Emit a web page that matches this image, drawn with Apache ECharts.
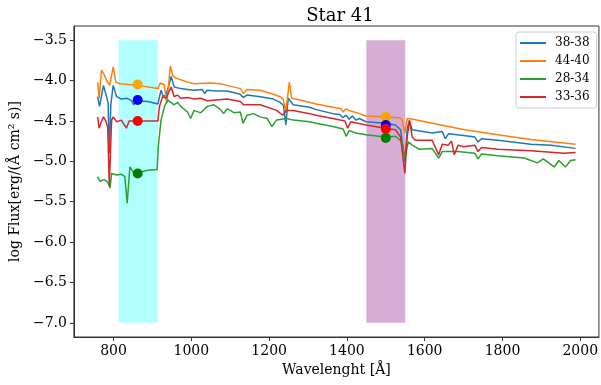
<!DOCTYPE html>
<html>
<head>
<meta charset="utf-8">
<script src="https://cdn.jsdelivr.net/npm/echarts@6/dist/echarts.min.js"></script>
<style>
  html, body { margin: 0; padding: 0; background: #fff; }
  #chart { width: 601px; height: 385px; }
</style>
</head>
<body>
<div id="chart"></div>
<script>
// spectra, [wavelength (Å), log flux]
const s3838 = [
  [759,-4.20],[764,-4.32],[774,-4.06],[782,-4.20],[786,-4.28],[789,-4.90],[793,-4.30],[799,-4.06],
  [808,-4.20],[820,-4.23],[835,-4.22],[846,-4.25],[852,-4.30],[858,-4.25],[888,-4.26],[914,-4.29],
  [922,-4.12],[928,-4.20],[934,-4.18],[940,-4.10],[948,-3.95],[956,-4.08],[973,-4.10],[990,-4.11],
  [1007,-4.12],[1028,-4.11],[1034,-4.16],[1041,-4.12],[1065,-4.13],[1092,-4.13],[1126,-4.17],[1133,-4.21],
  [1143,-4.18],[1177,-4.20],[1211,-4.23],[1228,-4.27],[1237,-4.31],[1243,-4.55],[1249,-4.22],[1262,-4.30],
  [1304,-4.33],[1321,-4.36],[1364,-4.41],[1382,-4.42],[1390,-4.46],[1398,-4.43],[1406,-4.48],[1414,-4.44],
  [1423,-4.49],[1432,-4.47],[1449,-4.51],[1498,-4.53],[1525,-4.55],[1538,-4.61],[1549,-5.00],[1555,-4.60],
  [1560,-4.50],[1568,-4.61],[1619,-4.65],[1645,-4.63],[1653,-4.72],[1661,-4.66],[1700,-4.68],[1729,-4.70],
  [1737,-4.76],[1746,-4.72],[1788,-4.74],[1873,-4.79],[1925,-4.80],[1988,-4.84]
];
const s4440 = [
  [759,-4.02],[763,-4.22],[769,-3.87],[776,-3.93],[782,-4.00],[790,-4.06],[799,-3.83],[806,-4.02],
  [816,-4.04],[863,-4.06],[914,-4.10],[920,-4.03],[930,-4.05],[937,-4.28],[946,-3.82],[952,-3.94],
  [960,-3.97],[973,-3.99],[990,-4.02],[1007,-4.04],[1049,-4.03],[1075,-4.04],[1092,-4.06],[1126,-4.10],
  [1134,-4.16],[1143,-4.11],[1177,-4.12],[1211,-4.17],[1228,-4.20],[1236,-4.23],[1243,-4.38],[1252,-4.02],
  [1258,-4.22],[1279,-4.24],[1321,-4.29],[1364,-4.33],[1385,-4.35],[1390,-4.39],[1398,-4.35],[1406,-4.37],
  [1432,-4.41],[1449,-4.44],[1498,-4.45],[1534,-4.46],[1542,-4.48],[1549,-4.65],[1555,-4.47],[1570,-4.48],
  [1619,-4.53],[1703,-4.61],[1788,-4.67],[1873,-4.73],[1988,-4.79]
];
const s2834 = [
  [759,-5.19],[765,-5.25],[772,-5.23],[778,-5.23],[785,-5.26],[791,-5.33],[795,-5.15],[808,-5.17],
  [820,-5.16],[829,-5.19],[835,-5.52],[842,-5.07],[850,-5.13],[863,-5.14],[888,-5.11],[912,-5.10],
  [915,-4.82],[922,-4.49],[931,-4.32],[939,-4.24],[947,-4.27],[956,-4.30],[964,-4.27],[973,-4.32],
  [990,-4.39],[998,-4.47],[1007,-4.37],[1024,-4.40],[1041,-4.32],[1058,-4.30],[1075,-4.36],[1083,-4.41],
  [1092,-4.35],[1100,-4.37],[1110,-4.40],[1126,-4.39],[1133,-4.53],[1143,-4.43],[1160,-4.41],[1177,-4.45],
  [1195,-4.47],[1207,-4.57],[1219,-4.49],[1245,-4.47],[1262,-4.49],[1304,-4.51],[1321,-4.53],[1364,-4.57],
  [1390,-4.60],[1398,-4.69],[1406,-4.62],[1423,-4.65],[1449,-4.67],[1498,-4.70],[1525,-4.69],[1542,-4.76],
  [1549,-4.95],[1558,-4.76],[1568,-4.80],[1585,-4.85],[1619,-4.84],[1636,-4.96],[1645,-4.88],[1686,-4.88],
  [1729,-4.90],[1737,-4.97],[1746,-4.91],[1788,-4.93],[1856,-4.96],[1890,-5.02],[1905,-4.97],[1933,-5.07],
  [1945,-4.99],[1962,-5.07],[1975,-4.99],[1988,-4.98]
];
const s3336 = [
  [759,-4.45],[763,-4.59],[768,-4.52],[774,-4.45],[780,-4.50],[785,-4.58],[789,-5.30],[795,-4.49],
  [799,-4.45],[808,-4.51],[820,-4.49],[833,-4.59],[840,-4.50],[863,-4.50],[914,-4.50],[918,-4.32],
  [926,-4.20],[935,-4.22],[948,-4.08],[956,-4.20],[964,-4.18],[973,-4.22],[990,-4.21],[1007,-4.23],
  [1024,-4.22],[1041,-4.25],[1092,-4.23],[1126,-4.26],[1134,-4.30],[1177,-4.30],[1219,-4.37],[1235,-4.43],
  [1245,-4.37],[1262,-4.37],[1304,-4.41],[1321,-4.43],[1364,-4.47],[1395,-4.50],[1402,-4.59],[1410,-4.51],
  [1449,-4.55],[1498,-4.59],[1525,-4.61],[1538,-4.70],[1549,-5.15],[1555,-4.70],[1561,-4.49],[1568,-4.70],
  [1576,-4.74],[1619,-4.74],[1636,-4.92],[1645,-4.79],[1660,-4.80],[1669,-4.75],[1676,-4.92],[1686,-4.80],
  [1700,-4.82],[1729,-4.80],[1737,-4.88],[1746,-4.83],[1788,-4.85],[1873,-4.87],[1958,-4.90],[1988,-4.89]
];

const seriesNames = ["38-38", "44-40", "28-34", "33-36"];
const seriesLines = [s3838, s4440, s2834, s3336];
const lineColors = ["#1f77b4", "#ff7f0e", "#2ca02c", "#d62728"];

// highlighted bands [from, to] in Å, spanning log flux -3.5 .. -7.0
const bandCyan = [813, 914];
const bandPurple = [1450, 1550];
const bandFlux = [-3.5, -7.0];

// band points: wavelength and log flux per colour
const pointWavelengths = [862, 1500];
const pointOrange = [-4.05, -4.45];
const pointBlue = [-4.24, -4.55];
const pointRed = [-4.50, -4.60];
const pointGreen = [-5.15, -4.71];

const xTicks = [800, 1000, 1200, 1400, 1600, 1800, 2000];
const yTicks = [-7.0, -6.5, -6.0, -5.5, -5.0, -4.5, -4.0, -3.5];

const font = "DejaVu Serif";
const chart = echarts.init(document.getElementById("chart"), null, { renderer: "canvas" });

const pointSets = [
  ["orange", "#ffa500", pointOrange],
  ["blue", "#0000ff", pointBlue],
  ["red", "#ff0000", pointRed],
  ["green", "#008000", pointGreen],
];

const option = {
  animation: false,
  title: {
    text: "Star 41",
    left: 335,
    top: 2,
    textAlign: "center",
    textStyle: { fontFamily: font, fontSize: 18, fontWeight: "normal", color: "#000" },
  },
  legend: {
    data: seriesNames,
    orient: "vertical",
    left: 516,
    top: 32,
    padding: [4, 7, 4, 4],
    itemGap: 4,
    itemWidth: 26,
    itemHeight: 2,
    icon: "rect",
    borderColor: "#cccccc",
    borderWidth: 1,
    borderRadius: 3,
    backgroundColor: "rgba(255,255,255,0.85)",
    textStyle: { fontFamily: font, fontSize: 12, color: "#000", lineHeight: 14, padding: [0, 0, 0, 4] },
  },
  grid: {
    left: 72, top: 26, right: 0, bottom: 48,
    show: true, borderColor: "#333", borderWidth: 1,
  },
  xAxis: {
    type: "value",
    min: 698,
    max: 2048,
    name: "Wavelenght [Å]",
    nameLocation: "middle",
    nameGap: 25,
    nameTextStyle: { fontFamily: font, fontSize: 14, color: "#000" },
    axisLine: { lineStyle: { color: "#333", width: 1 } },
    axisTick: { customValues: xTicks, length: 4, lineStyle: { color: "#333" } },
    axisLabel: {
      customValues: xTicks, margin: 7, fontFamily: font, fontSize: 14, color: "#000",
      formatter: (v) => String(v),
    },
    splitLine: { show: false },
  },
  yAxis: {
    type: "value",
    min: -7.175,
    max: -3.325,
    name: "log Flux[erg/(Å cm² s)]",
    nameLocation: "middle",
    nameGap: 49,
    nameTextStyle: { fontFamily: font, fontSize: 14, color: "#000" },
    axisLine: { show: true, lineStyle: { color: "#333", width: 1 } },
    axisTick: { show: true, customValues: yTicks, length: 4, lineStyle: { color: "#333" } },
    axisLabel: {
      customValues: yTicks, margin: 7, fontFamily: font, fontSize: 14, color: "#000",
      formatter: (v) => v.toFixed(1).replace("-", "\u2212"),
    },
    splitLine: { show: false },
  },
  series: [
    {
      name: "bands",
      type: "line",
      data: [],
      z: 1,
      silent: true,
      markArea: {
        silent: true,
        data: [
          [
            { xAxis: bandCyan[0], yAxis: bandFlux[0], itemStyle: { color: "rgba(0,255,255,0.3)" } },
            { xAxis: bandCyan[1], yAxis: bandFlux[1] },
          ],
          [
            { xAxis: bandPurple[0], yAxis: bandFlux[0], itemStyle: { color: "rgba(128,0,128,0.32)" } },
            { xAxis: bandPurple[1], yAxis: bandFlux[1] },
          ],
        ],
      },
    },
    ...seriesNames.map((name, i) => ({
      name,
      type: "line",
      data: seriesLines[i],
      z: 2 + i,
      showSymbol: false,
      symbol: "none",
      color: lineColors[i],
      lineStyle: { width: 1.5, color: lineColors[i] },
    })),
    ...pointSets.map(([name, color, vals], i) => ({
      name: "pt-" + name,
      type: "scatter",
      z: 10 + i,
      symbolSize: 10,
      itemStyle: { color, opacity: 1 },
      data: pointWavelengths.map((w, k) => [w, vals[k]]),
    })),
  ],
};

chart.setOption(option);
</script>
</body>
</html>
